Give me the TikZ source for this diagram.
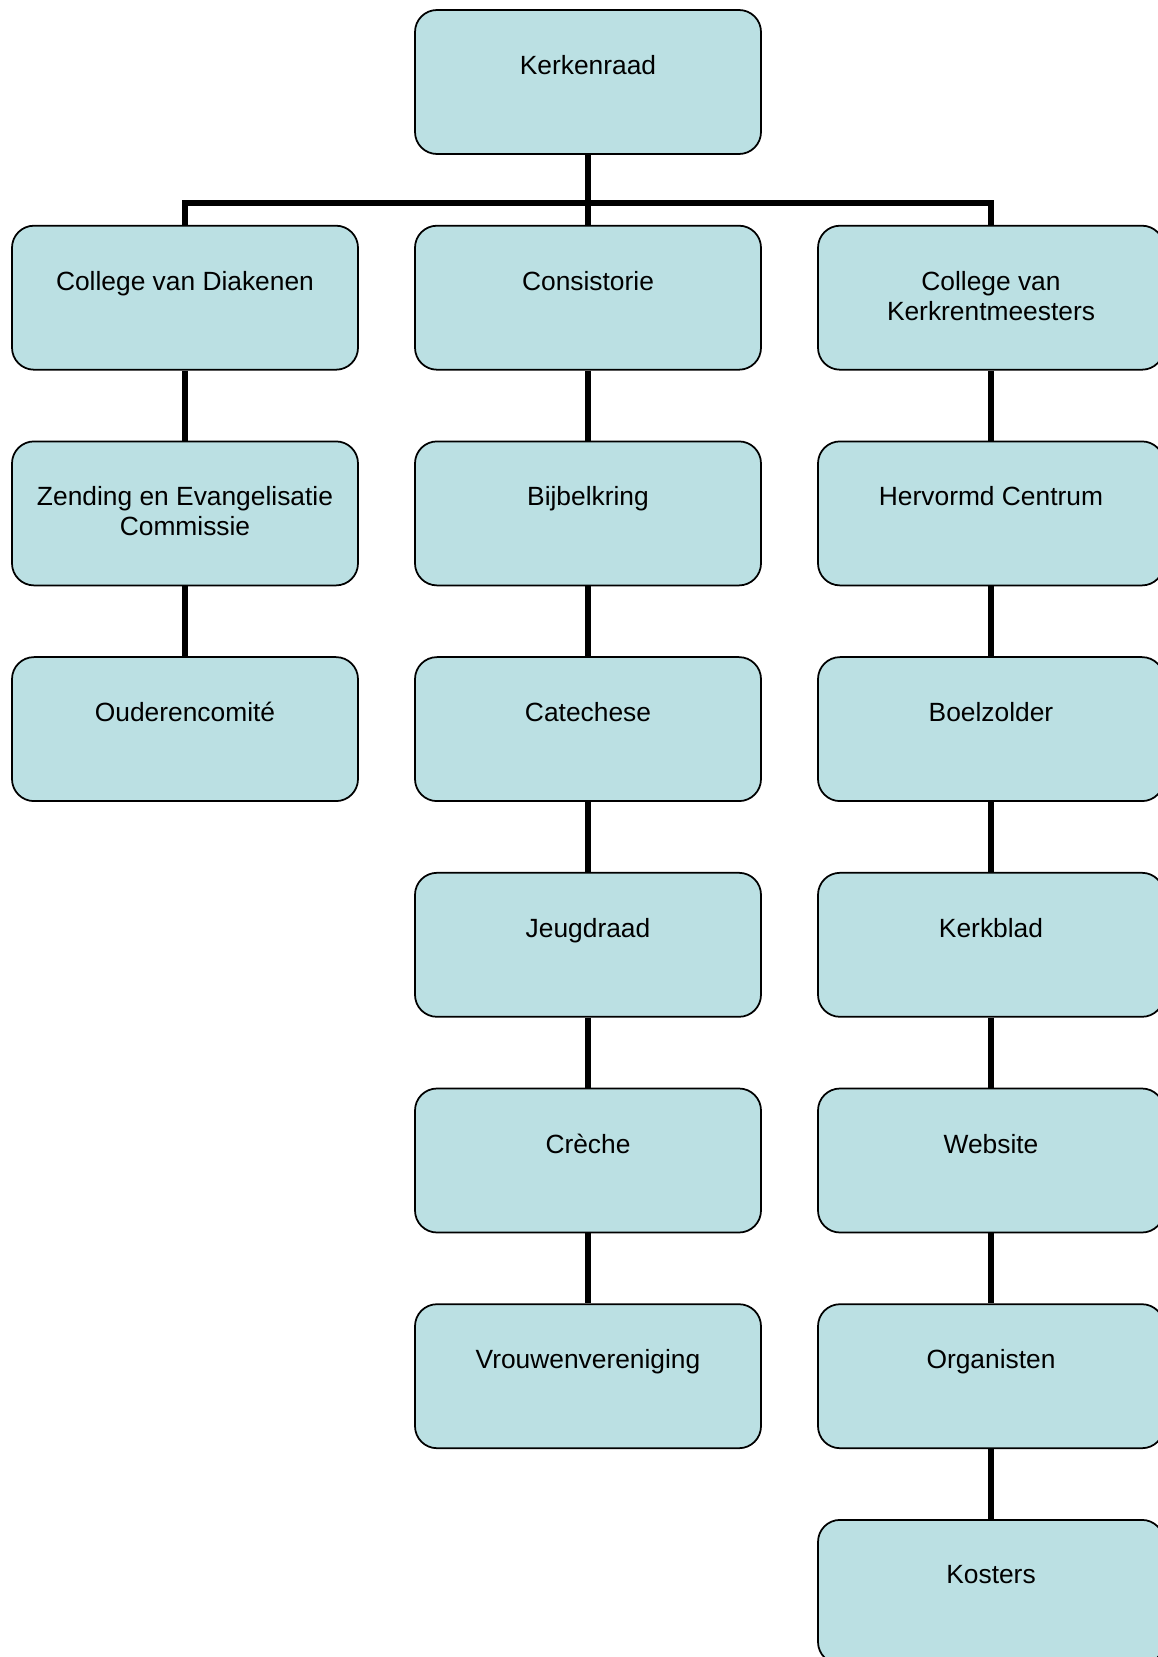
\documentclass[tikz,border=0pt]{standalone}
\usepackage{fontspec}
\setmainfont{Liberation Sans}
\usetikzlibrary{positioning}

\definecolor{boxblue}{RGB}{187,224,227}

\tikzset{
    orgbox/.style={rectangle, rounded corners=0.44cm, draw=black, line width=0.035cm,
        fill=boxblue, minimum width=6.92cm, minimum height=2.88cm, inner sep=0pt},
    orgtext/.style={anchor=north, inner sep=0pt, align=center,
        font=\fontsize{15pt}{17pt}\selectfont},
    conn/.style={line width=0.12cm, black}
}

\begin{document}
\begin{tikzpicture}
    \useasboundingbox (0,0) rectangle (23.16,-33.14);
    \clip (0,0) rectangle (23.16,-33.14);

    % Top
    \node[orgbox] (kr) at (11.76,-1.64) {};

    % Left column
    \node[orgbox] (cvd) at (3.70,-5.954) {};
    \node[orgbox] (zec) at (3.70,-10.268) {};
    \node[orgbox] (oc)  at (3.70,-14.582) {};

    % Middle column
    \node[orgbox] (cons) at (11.76,-5.954) {};
    \node[orgbox] (bk)   at (11.76,-10.268) {};
    \node[orgbox] (cat)  at (11.76,-14.582) {};
    \node[orgbox] (jr)   at (11.76,-18.896) {};
    \node[orgbox] (cr)   at (11.76,-23.21) {};
    \node[orgbox] (vv)   at (11.76,-27.524) {};

    % Right column
    \node[orgbox] (ckm) at (19.82,-5.954) {};
    \node[orgbox] (hc)  at (19.82,-10.268) {};
    \node[orgbox] (bz)  at (19.82,-14.582) {};
    \node[orgbox] (kb)  at (19.82,-18.896) {};
    \node[orgbox] (ws)  at (19.82,-23.21) {};
    \node[orgbox] (org) at (19.82,-27.524) {};
    \node[orgbox] (kos) at (19.82,-31.838) {};

    % Labels
    \node[orgtext, below=0.92cm of kr.north] (kr-t) {Kerkenraad};
    \node[orgtext, below=0.92cm of cvd.north] (cvd-t) {College van Diakenen};
    \node[orgtext, below=0.92cm of zec.north] (zec-t) {Zending en Evangelisatie\\Commissie};
    \node[orgtext, below=0.92cm of oc.north] (oc-t) {Ouderencomité};
    \node[orgtext, below=0.92cm of cons.north] (cons-t) {Consistorie};
    \node[orgtext, below=0.92cm of bk.north] (bk-t) {Bijbelkring};
    \node[orgtext, below=0.92cm of cat.north] (cat-t) {Catechese};
    \node[orgtext, below=0.92cm of jr.north] (jr-t) {Jeugdraad};
    \node[orgtext, below=0.92cm of cr.north] (cr-t) {Crèche};
    \node[orgtext, below=0.92cm of vv.north] (vv-t) {Vrouwenvereniging};
    \node[orgtext, below=0.92cm of ckm.north] (ckm-t) {College van\\Kerkrentmeesters};
    \node[orgtext, below=0.92cm of hc.north] (hc-t) {Hervormd Centrum};
    \node[orgtext, below=0.92cm of bz.north] (bz-t) {Boelzolder};
    \node[orgtext, below=0.92cm of kb.north] (kb-t) {Kerkblad};
    \node[orgtext, below=0.92cm of ws.north] (ws-t) {Website};
    \node[orgtext, below=0.92cm of org.north] (org-t) {Organisten};
    \node[orgtext, below=0.92cm of kos.north] (kos-t) {Kosters};

    % Connectors
    \coordinate (bar) at (11.76,-4.06);
    \draw[conn] (kr) -- (cons);
    \draw[conn] (cvd.north) |- (bar) -| (ckm.north);
    \foreach \a/\b in {cvd/zec, zec/oc, cons/bk, bk/cat, cat/jr, jr/cr, cr/vv,
                       ckm/hc, hc/bz, bz/kb, kb/ws, ws/org, org/kos} {
        \draw[conn] (\a) -- (\b);
    }
\end{tikzpicture}
\end{document}
